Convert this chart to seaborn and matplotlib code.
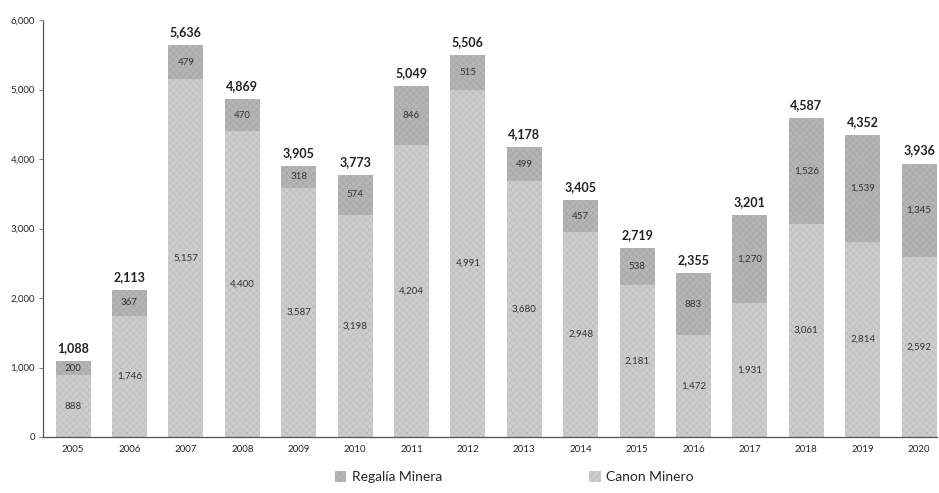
import matplotlib
matplotlib.use("Agg")
import matplotlib.pyplot as plt
from matplotlib.patches import Patch
import seaborn as sns
import pandas as pd
import numpy as np

years = ["2005", "2006", "2007", "2008", "2009", "2010", "2011", "2012",
         "2013", "2014", "2015", "2016", "2017", "2018", "2019", "2020"]
canon = [888, 1746, 5157, 4400, 3587, 3198, 4204, 4991,
         3680, 2948, 2181, 1472, 1931, 3061, 2814, 2592]
regalia = [200, 367, 479, 470, 318, 574, 846, 515,
           499, 457, 538, 883, 1270, 1526, 1539, 1345]
totals = [1088, 2113, 5636, 4869, 3905, 3773, 5049, 5506,
          4178, 3405, 2719, 2355, 3201, 4587, 4352, 3936]

df = pd.DataFrame({"year": years, "canon": canon, "regalia": regalia})
df["stack"] = df["canon"] + df["regalia"]

sns.set_style("white")
plt.rcParams["font.family"] = ["Lato", "DejaVu Sans"]
plt.rcParams["hatch.linewidth"] = 0.35

col_top = "#b5b5b5"
col_bot = "#cdcdcd"
hatch_top = "#a2a2a2"
hatch_bot = "#b8b8b8"

fig = plt.figure(figsize=(9.39, 4.93), dpi=100)
ax = fig.add_axes([0.046, 0.1136, 0.952, 0.8454])

sns.barplot(data=df, x="year", y="stack", color=col_top, saturation=1,
            width=0.62, ax=ax, hatch="xxxxx", edgecolor=hatch_top, linewidth=0)
sns.barplot(data=df, x="year", y="canon", color=col_bot, saturation=1,
            width=0.62, ax=ax, hatch="xxxxx", edgecolor=hatch_bot, linewidth=0)

for i in range(len(years)):
    ax.text(i, canon[i] / 2, f"{canon[i]:,}", ha="center", va="center",
            fontsize=7, color="#333333")
    ax.text(i, canon[i] + regalia[i] / 2, f"{regalia[i]:,}", ha="center",
            va="center", fontsize=7, color="#333333")
    ax.annotate(f"{totals[i]:,}", (i, canon[i] + regalia[i]),
                xytext=(0, 5), textcoords="offset points", ha="center",
                va="bottom", fontsize=9, fontweight="bold", color="#222222")

ax.set_ylim(0, 6000)
ax.set_xlim(-0.53, 15.32)
ax.set_yticks(range(0, 6001, 1000))
ax.set_yticklabels([f"{v:,}" for v in range(0, 6001, 1000)])
ax.set_xticks(np.arange(-0.5, 15.5, 1), minor=True)
ax.tick_params(axis="x", which="major", length=0, labelsize=7, pad=6)
ax.tick_params(axis="x", which="minor", length=3, color="#888888", direction="out")
ax.tick_params(axis="y", length=3, labelsize=7, color="#888888", left=True, pad=3)
ax.set_xlabel("")
ax.set_ylabel("")

sns.despine(ax=ax)
for s in ["left", "bottom"]:
    ax.spines[s].set_linestyle((0, (1, 1)))
    ax.spines[s].set_color("#555555")
    ax.spines[s].set_linewidth(0.9)

handles = [Patch(facecolor=col_top, hatch="xxxxx", edgecolor=hatch_top, linewidth=0),
           Patch(facecolor=col_bot, hatch="xxxxx", edgecolor=hatch_bot, linewidth=0)]
fig.legend(handles, ["Regalía Minera", "Canon Minero"], loc="center",
           bbox_to_anchor=(0.548, 0.032), ncol=2, frameon=False, fontsize=10,
           handlelength=0.8, handleheight=0.8, handletextpad=0.4, columnspacing=10.6)

fig.savefig("out.png", dpi=100)
